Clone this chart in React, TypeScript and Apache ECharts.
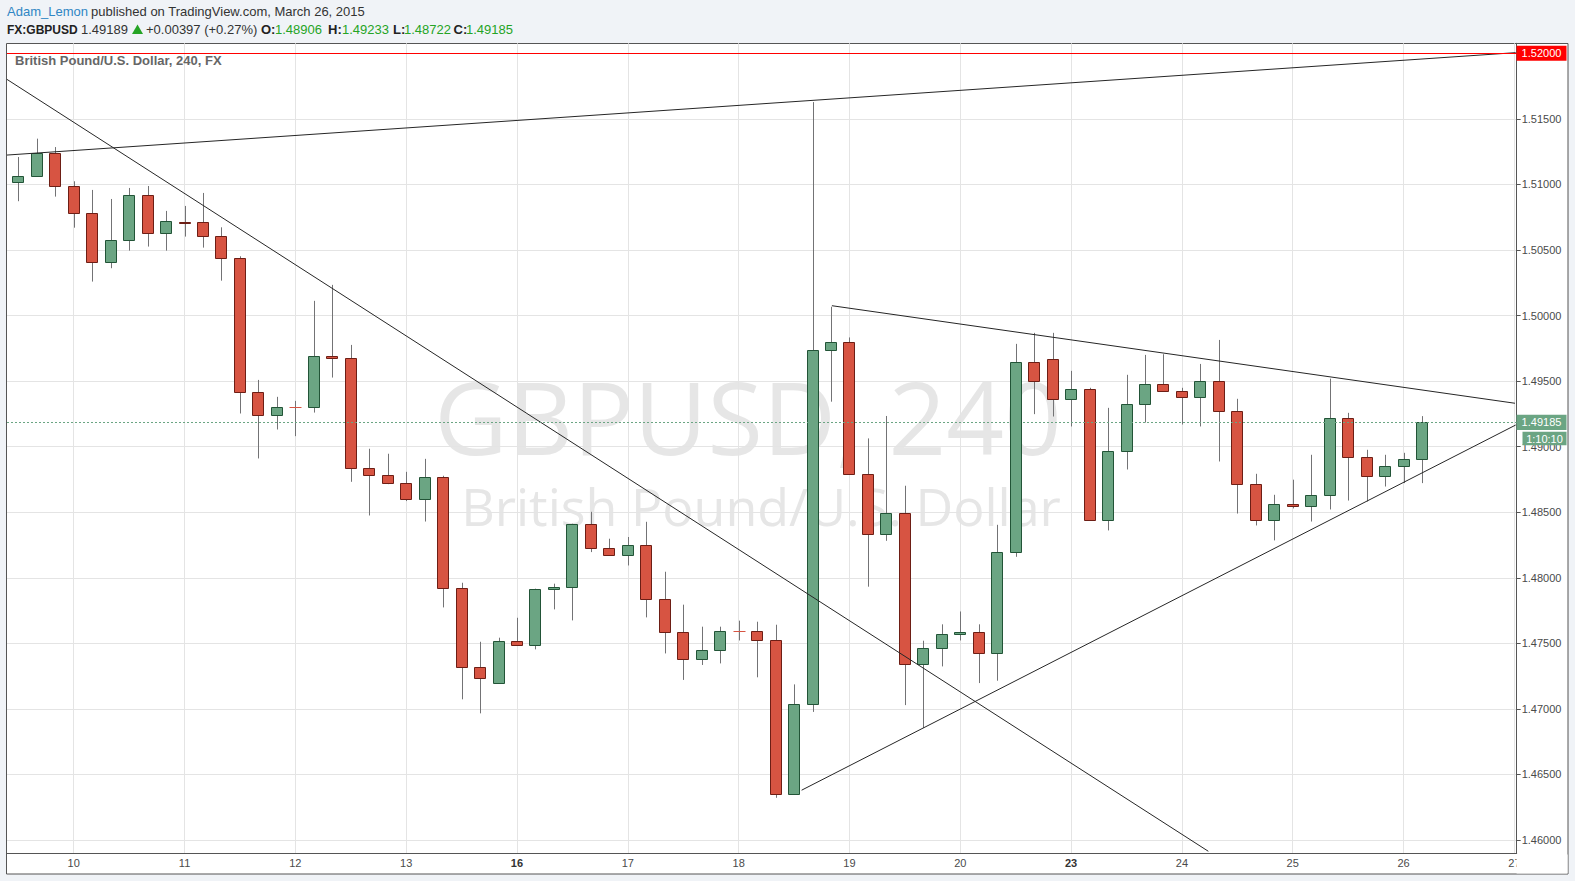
import React, { useEffect, useRef } from "react";
import * as echarts from "echarts";

// ---- 4-hour candles, GBPUSD, 9 Mar 12:00 .. 26 Mar 04:00 (bar index 0..76) ----
const opens = [
  1.51016, 1.51062, 1.51237, 1.50986, 1.5078, 1.50407, 1.50574, 1.50917, 1.50628, 1.50716,
  1.50712, 1.50605, 1.50437, 1.49416, 1.4924, 1.49301, 1.49301, 1.4969, 1.49675, 1.48836,
  1.48783, 1.48722, 1.486, 1.48768, 1.47922, 1.4732, 1.47198, 1.47518, 1.47487, 1.47914,
  1.47929, 1.4841, 1.48227, 1.48173, 1.4825, 1.47838, 1.47586, 1.47381, 1.47449, 1.47594,
  1.47594, 1.47525, 1.46354, 1.47036, 1.49734, 1.49798, 1.48793, 1.48334, 1.48492, 1.47344,
  1.47463, 1.47572, 1.47586, 1.47428, 1.48195, 1.49644, 1.49668, 1.49363, 1.49439, 1.4844,
  1.48966, 1.49325, 1.49477, 1.49423, 1.49378, 1.495, 1.49271, 1.48715, 1.4844, 1.48562,
  1.48547, 1.48631, 1.49218, 1.4892, 1.48776, 1.48852, 1.48906,
];
const closes = [
  1.51062, 1.51237, 1.50986, 1.5078, 1.50407, 1.50574, 1.50917, 1.50628, 1.50719, 1.50712,
  1.50605, 1.50437, 1.49416, 1.4924, 1.49301, 1.49301, 1.4969, 1.49675, 1.48836, 1.48783,
  1.48722, 1.486, 1.48768, 1.47922, 1.4732, 1.47236, 1.47518, 1.47487, 1.47914, 1.47929,
  1.4841, 1.48227, 1.48173, 1.4825, 1.47838, 1.47586, 1.47381, 1.47449, 1.47594, 1.47594,
  1.47525, 1.46354, 1.47036, 1.49734, 1.49798, 1.48793, 1.48334, 1.48492, 1.47344, 1.47463,
  1.47572, 1.47586, 1.47428, 1.48195, 1.49644, 1.495, 1.49363, 1.49439, 1.4844, 1.48966,
  1.49325, 1.49477, 1.49423, 1.49378, 1.495, 1.49271, 1.48715, 1.4844, 1.48562, 1.48547,
  1.48631, 1.49218, 1.4892, 1.48776, 1.48852, 1.48906, 1.49185,
];
const lows = [
  1.50872, 1.51058, 1.50907, 1.5067, 1.50259, 1.50361, 1.50495, 1.50526, 1.50495, 1.50602,
  1.50518, 1.50266, 1.49253, 1.4891, 1.49131, 1.4908, 1.4926, 1.49527, 1.48732, 1.48475,
  1.48714, 1.48585, 1.48429, 1.47774, 1.47073, 1.46966, 1.47192, 1.47482, 1.47454, 1.47759,
  1.47675, 1.48196, 1.4817, 1.48094, 1.47698, 1.47423, 1.47221, 1.47335, 1.47347, 1.47522,
  1.47241, 1.46322, 1.46346, 1.46977, 1.49343, 1.48787, 1.47932, 1.48282, 1.47029, 1.46854,
  1.47324, 1.47522, 1.47197, 1.47215, 1.4816, 1.49248, 1.4923, 1.49154, 1.48433, 1.48361,
  1.48826, 1.49184, 1.49417, 1.49169, 1.49154, 1.48887, 1.4849, 1.48399, 1.48285, 1.48529,
  1.48429, 1.48521, 1.48589, 1.48582, 1.48696, 1.48722, 1.48722,
];
const highs = [
  1.51209, 1.51349, 1.51285, 1.51024, 1.50958, 1.50889, 1.50973, 1.50988, 1.50798, 1.50836,
  1.50935, 1.50673, 1.50452, 1.49509, 1.4938, 1.49349, 1.50112, 1.50234, 1.49776, 1.48984,
  1.48946, 1.48808, 1.48907, 1.48778, 1.47962, 1.47512, 1.47543, 1.47695, 1.47917, 1.47955,
  1.48412, 1.48503, 1.48298, 1.48311, 1.48427, 1.48046, 1.47795, 1.47627, 1.47627, 1.47673,
  1.47665, 1.47642, 1.47187, 1.51628, 1.50067, 1.49833, 1.49063, 1.49234, 1.48702, 1.4752,
  1.47645, 1.47743, 1.47645, 1.48404, 1.49784, 1.49868, 1.49868, 1.49578, 1.49449, 1.49296,
  1.49548, 1.497, 1.49705, 1.49449, 1.49631, 1.49814, 1.49365, 1.48793, 1.48633, 1.48748,
  1.48938, 1.49519, 1.49258, 1.48976, 1.48938, 1.48953, 1.49233,
];

// x-axis: first bar index of each day, and the day labels
const dayStartBars = [3, 9, 15, 21, 27, 33, 39, 45, 51, 57, 63, 69, 75, 81];
const dayLabels = ["10", "11", "12", "13", "16", "17", "18", "19", "20", "23", "24", "25", "26", "27"];
const weekStartLabels = ["16", "23"];

// y-axis ticks
const priceTicks = [1.46, 1.465, 1.47, 1.475, 1.48, 1.485, 1.49, 1.495, 1.5, 1.505, 1.51, 1.515, 1.52];

// drawings: [barIndex, price] end points
const trendLines = [
  [[-0.612, 1.51224], [81.07, 1.52005]],
  [[-0.612, 1.51801], [64.43, 1.45914]],
  [[44.05, 1.50075], [81.03, 1.49331]],
  [[42.41, 1.4638], [81.07, 1.49165]],
];
const resistanceLevel = 1.52;
const lastPrice = 1.49185;
const countdown = "1:10:10";

const UP_FILL = "#6ba583";
const UP_BORDER = "#225437";
const DOWN_FILL = "#d75442";
const DOWN_BORDER = "#6d1e15";
const WICK = "#737375";
const GRID = "#e4e4e4";
const AXIS = "#555555";
const FONT = "'Liberation Sans', Arial, sans-serif";

export default function App() {
  const ref = useRef<HTMLDivElement | null>(null);

  useEffect(() => {
    document.body.style.margin = "0";
    const el = ref.current;
    if (!el) return;
    const chart = echarts.init(el, undefined, { renderer: "svg" });

    const candleData = opens.map((o, i) => [i, o, closes[i], lows[i], highs[i]]);

    chart.setOption({
      animation: false,
      backgroundColor: "#f0f3f7",
      grid: { left: 7, top: 43.3, right: 58.3, bottom: 27.7, containLabel: false },
      xAxis: {
        type: "value",
        min: -0.6118,
        max: 81.125,
        axisLine: { show: true, onZero: false, lineStyle: { color: AXIS } },
        axisTick: { show: false, customValues: dayStartBars },
        axisLabel: {
          customValues: dayStartBars,
          color: "#4a4a4a",
          fontSize: 11,
          fontFamily: FONT,
          margin: 4,
          formatter: (v: number) => {
            const k = dayStartBars.indexOf(Math.round(v));
            const t = k >= 0 ? dayLabels[k] : "";
            return weekStartLabels.includes(t) ? `{b|${t}}` : t;
          },
          rich: { b: { fontWeight: "bold", fontSize: 11, fontFamily: FONT, color: "#333" } },
        },
        splitLine: { show: true, lineStyle: { color: GRID, width: 1 } },
      },
      yAxis: {
        type: "value",
        position: "right",
        min: 1.458987,
        max: 1.520763,
        axisLine: { show: true, onZero: false, lineStyle: { color: AXIS } },
        axisTick: { show: true, customValues: priceTicks, length: 4, lineStyle: { color: AXIS } },
        axisLabel: {
          customValues: priceTicks.filter((v) => v < resistanceLevel),
          color: "#4a4a4a",
          fontSize: 11,
          fontFamily: FONT,
          margin: 5,
          formatter: (v: number) => v.toFixed(5),
        },
        splitLine: { show: true, lineStyle: { color: GRID, width: 1 } },
      },
      series: [
        {
          type: "custom",
          name: "GBPUSD",
          z: 2,
          data: candleData,
          encode: { x: 0, y: [1, 2, 3, 4] },
          renderItem: (_params: any, api: any) => {
            const i = api.value(0);
            const o = api.value(1);
            const c = api.value(2);
            const lo = api.value(3);
            const hi = api.value(4);
            const pO = api.coord([i, o]);
            const pC = api.coord([i, c]);
            const pL = api.coord([i, lo]);
            const pH = api.coord([i, hi]);
            const cx = Math.round(pO[0]) + 0.5;
            const top = Math.round(Math.min(pO[1], pC[1])) + 0.5;
            const bot = Math.round(Math.max(pO[1], pC[1])) + 0.5;
            const children: any[] = [
              {
                type: "line",
                shape: { x1: cx, y1: pH[1], x2: cx, y2: pL[1] },
                style: { stroke: WICK, lineWidth: 1 },
              },
            ];
            if (o === c) {
              children.push({
                type: "line",
                shape: { x1: cx - 6, y1: top, x2: cx + 6, y2: top },
                style: { stroke: DOWN_FILL, lineWidth: 1 },
              });
            } else {
              const up = c > o;
              children.push({
                type: "rect",
                shape: { x: cx - 6, y: top, width: 11, height: Math.max(1, bot - top) },
                style: {
                  fill: up ? UP_FILL : DOWN_FILL,
                  stroke: up ? UP_BORDER : DOWN_BORDER,
                  lineWidth: 1,
                },
              });
            }
            return { type: "group", children };
          },
        },
        ...trendLines.map((pts, k) => ({
          type: "line",
          z: 3,
          data: pts,
          showSymbol: false,
          symbol: "none",
          silent: true,
          clip: true,
          lineStyle: { color: "#262626", width: 1 },
          markLine:
            k === 0
              ? {
                  silent: true,
                  precision: 5,
                  symbol: ["none", "none"],
                  label: { show: false },
                  data: [
                    { yAxis: resistanceLevel, lineStyle: { color: "#ff0000", width: 1, type: "solid" } },
                    { yAxis: lastPrice, lineStyle: { color: UP_FILL, width: 1, type: [2, 2] } },
                  ],
                }
              : undefined,
        })),
      ],
    });

    const yRes = chart.convertToPixel({ yAxisIndex: 0 }, resistanceLevel) as number;
    const yLast = chart.convertToPixel({ yAxisIndex: 0 }, lastPrice) as number;

    const headerY1 = 11;
    const headerY2 = 29.5;
    const green = "#25a425";
    const txt = (text: string, x: number, y: number, extra: any = {}) => ({
      type: "text",
      z: 20,
      silent: true,
      style: {
        text,
        x,
        y,
        fill: "#333333",
        fontSize: 13,
        fontFamily: FONT,
        verticalAlign: "middle",
        align: "left",
        ...extra,
      },
    });

    chart.setOption({
      graphic: [
        {
          type: "rect",
          z: -10,
          silent: true,
          shape: { x: 6.5, y: 43.5, width: 1561.5, height: 830.5 },
          style: { fill: "#ffffff", stroke: AXIS, lineWidth: 1 },
        },
        {
          type: "text",
          z: -5,
          silent: true,
          style: {
            text: "GBPUSD, 240",
            x: 748,
            y: 416,
            fill: "#e6e6e6",
            fontSize: 101,
            fontFamily: "'Open Sans', sans-serif",
            align: "center",
            verticalAlign: "middle",
          },
        },
        {
          type: "text",
          z: -5,
          silent: true,
          style: {
            text: "British Pound/U.S. Dollar",
            x: 761,
            y: 505,
            fill: "#e6e6e6",
            fontSize: 52,
            fontFamily: "'Open Sans', sans-serif",
            align: "center",
            verticalAlign: "middle",
          },
        },
        txt("British Pound/U.S. Dollar, 240, FX", 15, 60.5, { fill: "#666666", fontWeight: "bold" }),
        txt("Adam_Lemon", 7, headerY1, { fill: "#2f86c4" }),
        txt(" published on TradingView.com, March 26, 2015", 87.5, headerY1),
        txt("FX:GBPUSD", 7, headerY2, { fontWeight: "bold", fill: "#222222", fontSize: 12 }),
        txt("1.49189", 81, headerY2),
        {
          type: "polygon",
          z: 20,
          silent: true,
          shape: { points: [[132, headerY2 + 4.5], [143, headerY2 + 4.5], [137.5, headerY2 - 5]] },
          style: { fill: green },
        },
        txt("+0.00397 (+0.27%)", 146, headerY2),
        txt("O:", 261, headerY2, { fontWeight: "bold", fill: "#222222" }),
        txt("1.48906", 275, headerY2, { fill: green }),
        txt("H:", 328, headerY2, { fontWeight: "bold", fill: "#222222" }),
        txt("1.49233", 342, headerY2, { fill: green }),
        txt("L:", 393, headerY2, { fontWeight: "bold", fill: "#222222" }),
        txt("1.48722", 404, headerY2, { fill: green }),
        txt("C:", 453.6, headerY2, { fontWeight: "bold", fill: "#222222" }),
        txt("1.49185", 466, headerY2, { fill: green }),
        // cover clipped part of the last date label, as in the reference
        {
          type: "rect",
          z: 50,
          silent: true,
          shape: { x: 1516.6, y: 854.5, width: 51, height: 19 },
          style: { fill: "#ffffff" },
        },
        // price labels on the axis
        {
          type: "rect",
          z: 60,
          silent: true,
          shape: { x: 1516.5, y: yRes - 7.5, width: 50, height: 15 },
          style: { fill: "#ff0000" },
        },
        {
          type: "text",
          z: 61,
          silent: true,
          style: {
            text: "1.52000",
            x: 1541.5,
            y: yRes,
            fill: "#ffffff",
            fontSize: 11,
            fontFamily: FONT,
            align: "center",
            verticalAlign: "middle",
          },
        },
        {
          type: "rect",
          z: 60,
          silent: true,
          shape: { x: 1516.5, y: yLast - 7.7, width: 50, height: 15.4 },
          style: { fill: UP_FILL },
        },
        {
          type: "text",
          z: 61,
          silent: true,
          style: {
            text: lastPrice.toFixed(5),
            x: 1541.5,
            y: yLast,
            fill: "#ffffff",
            fontSize: 11,
            fontFamily: FONT,
            align: "center",
            verticalAlign: "middle",
          },
        },
        {
          type: "rect",
          z: 60,
          silent: true,
          shape: { x: 1522.5, y: yLast + 9.3, width: 44, height: 13.6 },
          style: { fill: UP_FILL },
        },
        {
          type: "text",
          z: 61,
          silent: true,
          style: {
            text: countdown,
            x: 1544.5,
            y: yLast + 16.1,
            fill: "#ffffff",
            fontSize: 11,
            fontFamily: FONT,
            align: "center",
            verticalAlign: "middle",
          },
        },
      ],
    });

    return () => chart.dispose();
  }, []);

  return <div ref={ref} style={{ width: 1575, height: 881 }} />;
}
